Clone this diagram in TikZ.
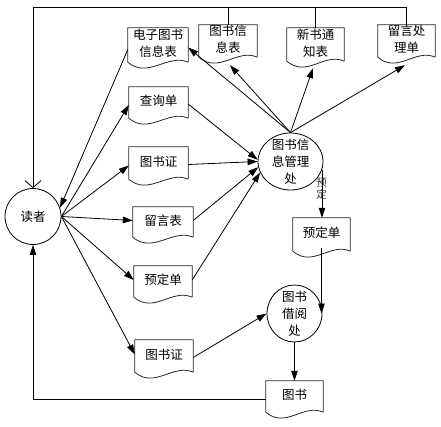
\documentclass[tikz,border=0pt]{standalone}
\usepackage{fontspec}
\setmainfont{Noto Sans CJK SC}
\usetikzlibrary{arrows.meta,shapes.geometric,calc}
\newcommand\docshape[1]{\draw[docline] ($(#1.south east)+(0,3)$) -- (#1.north east) -- (#1.north west) -- ($(#1.south west)+(0,3)$) .. controls +(20,17) and +(-20,-9) .. ($(#1.south east)+(0,3)$);}
\begin{document}
\begin{tikzpicture}[x=1pt,y=-1pt,
  every node/.style={font=\fontsize{12.5}{17}\selectfont},
  docu/.style={rectangle, inner sep=0pt, align=center},
  proc/.style={ellipse, draw, line width=0.8pt, inner sep=0pt},
  ptext/.style={align=center, inner sep=0pt},
  lbl/.style={align=center, inner sep=0pt, text=black!80, font=\fontsize{10.5}{12}\selectfont},
  docline/.style={line width=0.8pt, draw=black!85},
  arr/.style={line width=0.8pt, -{Triangle[length=10pt,width=6.5pt]}},
  plain/.style={line width=0.8pt},
  openarr/.style={line width=0.8pt, -{Straight Barb[length=7pt,width=16pt]}},
]
\useasboundingbox (0,0) rectangle (441,427);

% documents
\node[docu, minimum width=60pt, minimum height=31pt] (ebook) at (158,43.5) {电子图书\\信息表};
\node[docu, minimum width=58pt, minimum height=29pt] (tsxx) at (228,39.5) {图书信\\息表};
\node[docu, minimum width=57pt, minimum height=30pt] (xstz) at (315.5,43) {新书通\\知表};
\node[docu, minimum width=57pt, minimum height=29pt] (lycl) at (406.5,39.5) {留言处\\理单};
\node[docu, minimum width=59pt, minimum height=28pt] (chaxun) at (158.5,101) {查询单};
\node[docu, minimum width=59pt, minimum height=29pt] (tsz1) at (158.5,161.5) {图书证};
\node[docu, minimum width=60pt, minimum height=27pt] (lyb) at (163,220.5) {留言表};
\node[docu, minimum width=58pt, minimum height=28pt] (ydL) at (163,280) {预定单};
\node[docu, minimum width=58pt, minimum height=29pt] (tsz2) at (164,354.5) {图书证};
\node[docu, minimum width=57pt, minimum height=28pt] (ts) at (294.5,395) {图书};
\node[docu, minimum width=57pt, minimum height=30pt] (ydR) at (321.5,233) {预定单};
\foreach \n in {ebook,tsxx,xstz,lycl,chaxun,tsz1,lyb,ydL,tsz2,ts,ydR}{\docshape{\n}}

% processes
\node[proc, circle, minimum size=56pt] (reader) at (33,216.5) {读者};
\node[proc, minimum width=65pt, minimum height=57pt] (mgmt) at (290.5,161.5) {};
\node[ptext] (mgmtT) at (mgmt) {图书信\\息管理\\处};
\node[proc, minimum width=55pt, minimum height=57pt] (jy) at (294.5,313.5) {};
\node[ptext] (jyT) at (jy) {图书\\借阅\\处};

% top loop
\coordinate (tl) at (33,7);
\draw[openarr] (lycl.north) |- (tl) -- (reader.north);
\draw[plain] (tsxx.north) -- (tsxx.north |- tl);
\draw[plain] (xstz.north) -- (xstz.north |- tl);

% reader connections
\draw[arr] ([yshift=-6pt]ebook.west) -- (reader.18);
\draw[arr] (reader.east) -- ([yshift=-4pt]chaxun.west);
\draw[arr] (reader.east) -- ([yshift=-4pt]tsz1.west);
\draw[arr] (reader.east) -- (lyb.west);
\draw[arr] (reader.east) -- (ydL.west);
\draw[arr] (reader.east) -- (tsz2.west);

% into management
\draw[arr] ([yshift=-3pt]chaxun.east) -- (mgmt.177);
\draw[arr] ([yshift=-3pt]tsz1.east) -- (mgmt.west);
\draw[arr] (lyb.east) -- (mgmt.190);
\draw[arr] (ydL.east) -- (mgmt.200);

% out of management
\draw[arr] (mgmt.north) -- ([yshift=-4pt]ebook.east);
\draw[arr] (mgmt.north) -- ([xshift=2pt,yshift=-11pt]tsxx.south);
\draw[arr] (mgmt.north) -- ([xshift=-2.5pt,yshift=-10pt]xstz.south);
\draw[arr] (mgmt.north) -- ([xshift=-1.5pt,yshift=-11pt]lycl.south);
\draw[arr] (mgmt.-15) -- (mgmt.-15 |- ydR.north);
\node[lbl] (ydlabel) at (321.5,189) {预\\定};

% borrowing
\draw[arr] (ydR.south) -- (ydR.south |- jy.east);
\draw[arr] ([yshift=-3pt]tsz2.east) -- (jy.west);
\draw[arr] (jy.south) -- (ts.north);
\draw[arr] ([yshift=-4pt]ts.west) -| (reader.south);
\end{tikzpicture}
\end{document}
